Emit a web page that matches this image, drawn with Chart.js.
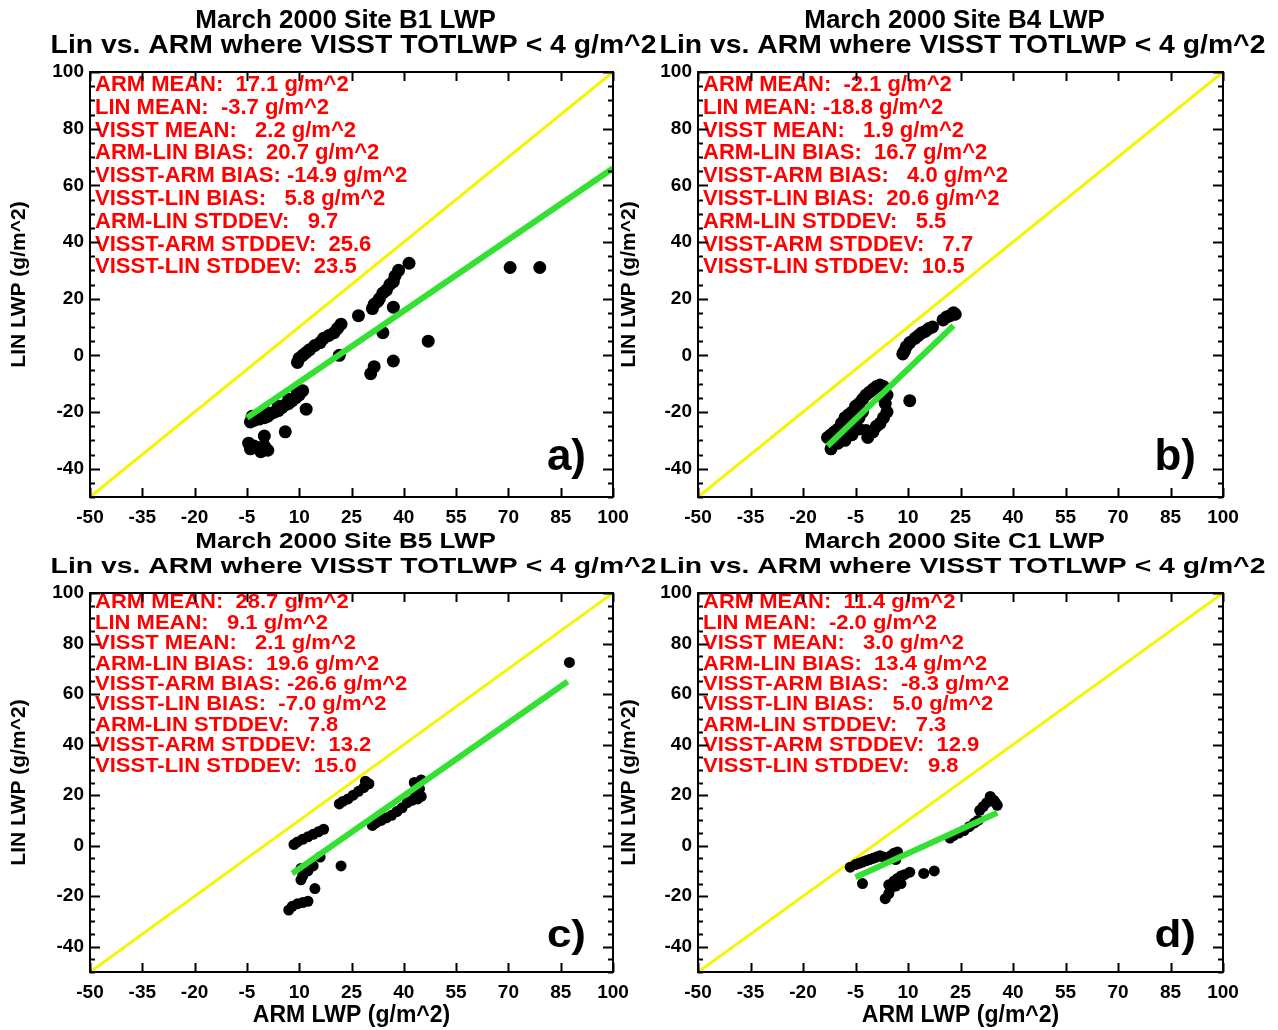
<!DOCTYPE html>
<html>
<head>
<meta charset="utf-8">
<title>March 2000 LWP - Lin vs. ARM</title>
<script src="https://cdn.jsdelivr.net/npm/chart.js@4.4.1/dist/chart.umd.min.js"></script>
<style>
  html, body { margin: 0; padding: 0; background: #fff; }
  #page { position: relative; width: 1278px; height: 1030px; overflow: hidden; }
  #page canvas { position: absolute; }
</style>
</head>
<body>
<div id="page">
  <canvas id="chartB1" width="680" height="530" style="left:0px;top:0px"></canvas>
  <canvas id="chartB4" width="668" height="530" style="left:610px;top:0px"></canvas>
  <canvas id="chartB5" width="680" height="500" style="left:0px;top:530px"></canvas>
  <canvas id="chartC1" width="668" height="500" style="left:610px;top:530px"></canvas>
</div>
<script>
// axis ticks, same on all four panels
const xTicks = [-50, -35, -20, -5, 10, 25, 40, 55, 70, 85, 100];
const yTicks = [-40, -20, 0, 20, 40, 60, 80, 100];

// 1:1 reference line
const diagArm = [-50, 100];
const diagLin = [-50, 100];

const subTitle = 'Lin vs. ARM where VISST TOTLWP < 4 g/m^2';

// ---- site B1 ----
const b1Arm = [-4.5, -3, -2, 0, 1, -4, -1, 0, 6, 12,
  -4, -3, -1.5, 0, 1, 2, 3, 4, 5, 6, 7, 8, 9, 10, 11, -3.5, 0.5, 4, 7, 9.5,
  9.5, 10, 11, 12, 13, 14.5, 16, 17, 18.5, 20, 21, 22,
  21.5, 30.5, 31.5, 37, 34, 47, 27, 37,
  31, 31.5, 32.5, 33, 34, 35, 36, 37, 37.5, 38.5, 41.5, 70.5, 79];
const b1Lin = [-31, -32, -32.5, -32, -33.5, -33, -34, -28.5, -27, -19,
  -23.5, -23, -22.5, -22, -21.5, -20.5, -20, -19.5, -18.5, -17.5, -17, -16, -15, -14, -12.5, -21.5, -20, -18, -15.5, -13,
  -2.5, -1, 0, 1, 2, 3.5, 4.5, 6, 7, 8, 9.5, 11,
  0, -6.5, -4, -2, 8, 5, 14, 17,
  16.5, 18, 19, 20, 22, 23, 25, 26, 28, 30, 32.5, 31, 31];
const b1FitArm = [-5, 100];
const b1FitLin = [-22, 66];
const b1Stats = [
  'ARM MEAN:  17.1 g/m^2',
  'LIN MEAN:  -3.7 g/m^2',
  'VISST MEAN:   2.2 g/m^2',
  'ARM-LIN BIAS:  20.7 g/m^2',
  'VISST-ARM BIAS: -14.9 g/m^2',
  'VISST-LIN BIAS:   5.8 g/m^2',
  'ARM-LIN STDDEV:   9.7',
  'VISST-ARM STDDEV:  25.6',
  'VISST-LIN STDDEV:  23.5'
];

// ---- site B4 ----
const b4Arm = [20, 21, 22, 23, 23.5, 17, 16, 15, 14, 13, 12, 10.5, 9.5, 9, 8.5, 10.5,
  -13, -12, -11, -10, -9, -8, -7, -6, -5, -4, -3, -2, -1, 0, 1, 2, 3,
  -12, -10, -8, -6, -4, -2, -1.5, 0, 1, 2, 3, 4, 3.5, 3, 4, -4, -3, -6, -5, -7];
const b4Lin = [12.5, 13.5, 14, 15, 14.5, 10, 9.5, 8.5, 8, 7, 6, 4.5, 3, 1.5, 0.5, -16,
  -29, -28, -27, -26, -24, -22, -21, -20, -18, -17, -15.5, -14, -13, -12, -11, -10.5, -11,
  -33, -31, -30, -28, -26, -26.5, -29, -27, -25, -24, -22, -20, -17, -15, -14, -22, -20, -24, -21, -26];
const b4FitArm = [-13, 23];
const b4FitLin = [-32, 10.5];
const b4Stats = [
  'ARM MEAN:  -2.1 g/m^2',
  'LIN MEAN: -18.8 g/m^2',
  'VISST MEAN:   1.9 g/m^2',
  'ARM-LIN BIAS:  16.7 g/m^2',
  'VISST-ARM BIAS:   4.0 g/m^2',
  'VISST-LIN BIAS:  20.6 g/m^2',
  'ARM-LIN STDDEV:   5.5',
  'VISST-ARM STDDEV:   7.7',
  'VISST-LIN STDDEV:  10.5'
];

// ---- site B5 ----
const b5Arm = [87.5,
  8.5, 9.5, 11, 12.5, 14, 15.5, 17,
  21.5, 22.5, 24, 25.5, 27, 28.5, 30, 29,
  31, 32, 33.5, 35, 36.5, 38, 39.5, 41, 42.5, 43.5, 44.5, 45, 43, 45, 44,
  16, 14, 12.5, 11, 10.5, 10.5,
  22, 14.5,
  7, 8, 9.5, 11, 12.5];
const b5Lin = [72.5,
  0.5, 1.5, 2.5, 3.5, 4.5, 5.5, 6.5,
  16.5, 17.5, 18.5, 20, 21.5, 23, 24.5, 25.5,
  8, 9, 10, 11, 12, 13.5, 15, 17, 18, 20, 22.5, 26, 25, 19.5, 18.5,
  -4.5, -8, -10, -12, -13.5, -9,
  -8, -17,
  -25.5, -24, -23, -22.5, -22];
const b5FitArm = [8, 87];
const b5FitLin = [-11, 65];
const b5Stats = [
  'ARM MEAN:  28.7 g/m^2',
  'LIN MEAN:   9.1 g/m^2',
  'VISST MEAN:   2.1 g/m^2',
  'ARM-LIN BIAS:  19.6 g/m^2',
  'VISST-ARM BIAS: -26.6 g/m^2',
  'VISST-LIN BIAS:  -7.0 g/m^2',
  'ARM-LIN STDDEV:   7.8',
  'VISST-ARM STDDEV:  13.2',
  'VISST-LIN STDDEV:  15.0'
];

// ---- site C1 ----
const c1Arm = [-6.5, -5, -4, -3, -2, -1, 0, 1, 2, 3, 4, 5, 6, 7, 6.5,
  -3,
  3.5, 4.5, 5, 4.5, 6, 7, 8, 9, 10.5, 6.5, 8,
  14.5, 17.5,
  22, 23, 24.5, 26, 27.5, 29, 30,
  30.5, 31.5, 32.5, 33.5, 34.5, 35, 35.5];
const c1Lin = [-8.5, -7.5, -7, -6.5, -6, -5.5, -5, -4.5, -4, -4.5, -5, -4, -3, -2.5, -5.5,
  -15,
  -21, -19, -17, -15.5, -14, -13, -12, -11.5, -10.5, -16, -15,
  -11, -10,
  3, 4, 5, 6, 7.5, 9, 10,
  14, 15.5, 17, 19.5, 18, 17, 16];
const c1FitArm = [-5, 35.5];
const c1FitLin = [-12.5, 13];
const c1Stats = [
  'ARM MEAN:  11.4 g/m^2',
  'LIN MEAN:  -2.0 g/m^2',
  'VISST MEAN:   3.0 g/m^2',
  'ARM-LIN BIAS:  13.4 g/m^2',
  'VISST-ARM BIAS:  -8.3 g/m^2',
  'VISST-LIN BIAS:   5.0 g/m^2',
  'ARM-LIN STDDEV:   7.3',
  'VISST-ARM STDDEV:  12.9',
  'VISST-LIN STDDEV:   9.8'
];


const FONT = '"Liberation Sans", Arial, Helvetica, sans-serif';

Chart.defaults.font.family = FONT;
Chart.defaults.color = '#000';

function toPoints(xs, ys) {
  return xs.map((v, i) => ({ x: v, y: ys[i] }));
}

// text with a stretch; the lower row of the original is squashed vertically
function drawText(ctx, text, x, y, sy, sx) {
  ctx.save();
  ctx.translate(x, y);
  ctx.scale(sx || 1, sy);
  ctx.fillText(text, 0, 0);
  ctx.restore();
}

function makePanel(canvasId, p) {

  const lower = p.lower;
  const squash = lower ? 0.88 : 1;

  // frame, inward ticks, titles, statistics and panel letter
  const decor = {
    id: 'decor',
    afterDatasetsDraw(chart) {
      const { ctx, chartArea: a } = chart;
      ctx.save();
      ctx.fillStyle = '#ff0000';
      ctx.font = 'bold 22px ' + FONT;
      ctx.textBaseline = 'middle';
      ctx.textAlign = 'left';
      const first = lower ? 10 : 13;
      const step = lower ? 20.4 : 22.8;
      p.stats.forEach((line, i) => {
        drawText(ctx, line, a.left + 5, a.top + first + i * step, squash);
      });
      ctx.restore();
    },
    afterDraw(chart) {
      const { ctx, chartArea: a, scales: { x, y } } = chart;
      ctx.save();

      ctx.strokeStyle = '#000';
      ctx.lineWidth = 2;
      ctx.strokeRect(a.left, a.top, a.right - a.left, a.bottom - a.top);

      ctx.beginPath();
      xTicks.forEach(v => {
        const px = Math.round(x.getPixelForValue(v)) + 0.5;
        ctx.moveTo(px, a.bottom); ctx.lineTo(px, a.bottom - 9);
        ctx.moveTo(px, a.top); ctx.lineTo(px, a.top + 9);
      });
      for (let v = y.min; v <= y.max; v += 5) {
        const len = (v % 20 === 0) ? 10 : 5;
        const py = Math.round(y.getPixelForValue(v)) + 0.5;
        ctx.moveTo(a.left, py); ctx.lineTo(a.left + len, py);
        ctx.moveTo(a.right, py); ctx.lineTo(a.right - len, py);
      }
      ctx.stroke();

      // titles
      ctx.fillStyle = '#000';
      ctx.textAlign = 'center';
      ctx.textBaseline = 'middle';
      const cx = (a.left + a.right) / 2 + 2;
      ctx.font = 'bold 26px ' + FONT;
      drawText(ctx, 'March 2000 Site ' + p.site + ' LWP', cx - 8, a.top - 51, squash);
      drawText(ctx, subTitle, cx, a.top - 26, squash, 1.09);

      // panel letter
      ctx.textAlign = 'right';
      ctx.font = 'bold 44px ' + FONT;
      drawText(ctx, p.letter, a.right - 27, a.bottom - (lower ? 36 : 39), squash);

      ctx.restore();
    }
  };

  const tickFont = { family: FONT, size: 19, weight: 'bold' };

  return new Chart(document.getElementById(canvasId), {
    type: 'scatter',
    data: {
      datasets: [
        {
          label: 'Fit',
          data: toPoints(p.fitArm, p.fitLin),
          showLine: true,
          borderColor: '#33e033',
          borderWidth: 6,
          pointRadius: 0,
          order: 0
        },
        {
          label: 'Lin vs. ARM',
          data: toPoints(p.arm, p.lin),
          backgroundColor: '#000',
          borderWidth: 0,
          pointRadius: lower ? 5.5 : 6.5,
          order: 1
        },
        {
          label: '1:1',
          data: toPoints(diagArm, diagLin),
          showLine: true,
          borderColor: '#f5f500',
          borderWidth: 3,
          pointRadius: 0,
          order: 2
        }
      ]
    },
    options: {
      responsive: false,
      animation: false,
      events: [],
      layout: {
        padding: { left: 0, top: lower ? 63 : 72, right: p.padRight, bottom: 0 }
      },
      plugins: {
        legend: { display: false },
        tooltip: { enabled: false },
        title: { display: false }
      },
      scales: {
        x: {
          type: 'linear',
          min: -50,
          max: 100,
          afterBuildTicks: s => { s.ticks = xTicks.map(v => ({ value: v })); },
          afterFit: s => { s.height = lower ? 58 : 33; },
          grid: { display: false, drawTicks: false },
          border: { display: false },
          ticks: { autoSkip: false, maxRotation: 0, padding: 9, font: tickFont, color: '#000' },
          title: {
            display: lower,
            text: 'ARM LWP (g/m^2)',
            font: { family: FONT, size: 23, weight: 'bold' },
            color: '#000',
            padding: { top: 0, bottom: 1 }
          }
        },
        y: {
          type: 'linear',
          min: -50,
          max: 100,
          afterBuildTicks: s => { s.ticks = yTicks.map(v => ({ value: v })); },
          afterFit: s => { s.width = p.axisWidth; },
          grid: { display: false, drawTicks: false },
          border: { display: false },
          ticks: { autoSkip: false, padding: 6, font: tickFont, color: '#000' },
          title: {
            display: true,
            text: 'LIN LWP (g/m^2)',
            font: { family: FONT, size: 21, weight: 'bold' },
            color: '#000',
            padding: { top: 7, bottom: 0 }
          }
        }
      }
    },
    plugins: [decor]
  });
}

makePanel('chartB1', { site: 'B1', arm: b1Arm, lin: b1Lin, fitArm: b1FitArm, fitLin: b1FitLin,
  stats: b1Stats, letter: 'a)', lower: false, axisWidth: 90, padRight: 67 });
makePanel('chartB4', { site: 'B4', arm: b4Arm, lin: b4Lin, fitArm: b4FitArm, fitLin: b4FitLin,
  stats: b4Stats, letter: 'b)', lower: false, axisWidth: 88, padRight: 55 });
makePanel('chartB5', { site: 'B5', arm: b5Arm, lin: b5Lin, fitArm: b5FitArm, fitLin: b5FitLin,
  stats: b5Stats, letter: 'c)', lower: true, axisWidth: 90, padRight: 67 });
makePanel('chartC1', { site: 'C1', arm: c1Arm, lin: c1Lin, fitArm: c1FitArm, fitLin: c1FitLin,
  stats: c1Stats, letter: 'd)', lower: true, axisWidth: 88, padRight: 55 });
</script>
</body>
</html>
